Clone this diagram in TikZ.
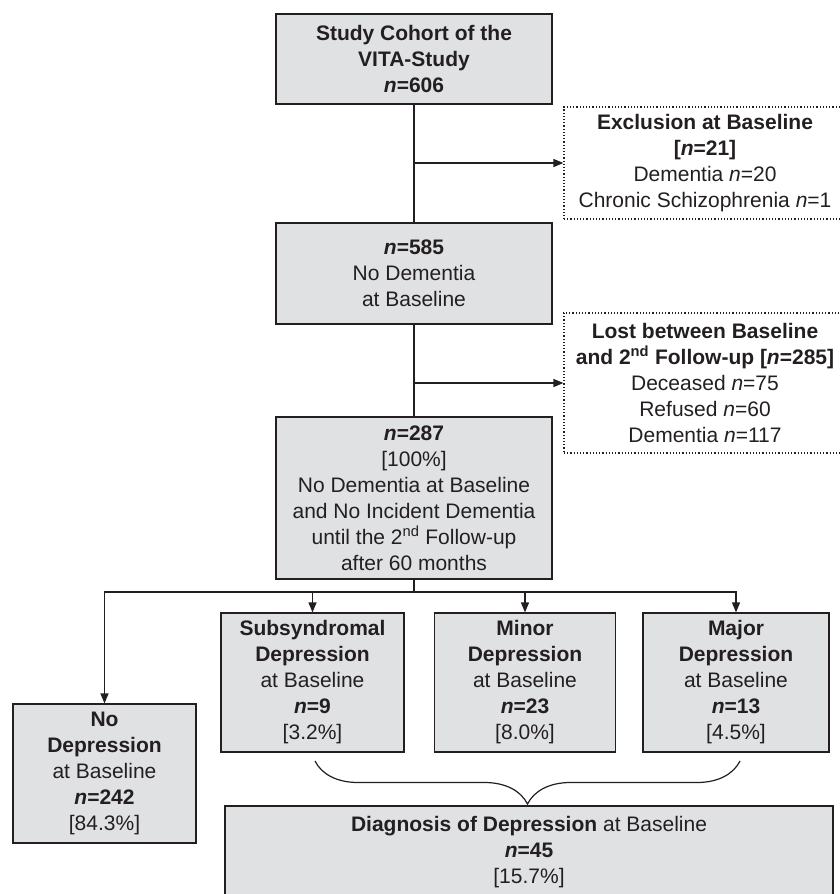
\documentclass[tikz,border=0pt]{standalone}
\usepackage{fontspec}
\setmainfont{Liberation Sans}
\usetikzlibrary{arrows.meta,decorations.pathreplacing}
\definecolor{boxfill}{RGB}{224,225,227}
\definecolor{ink}{RGB}{35,31,32}

\begin{document}
\begin{tikzpicture}[x=1pt, y=-1pt,
    font=\fontsize{21}{26}\selectfont, text=ink,
    box/.style={draw=ink, line width=1.2pt, fill=boxfill, align=center, inner sep=2pt},
    lostbox/.style={draw=ink, line width=1.2pt, dotted, align=center, inner sep=2pt},
    link/.style={draw=ink, line width=1.2pt},
    arr/.style={-{Triangle[length=10pt,width=8pt]}}]
    \useasboundingbox (0,0) rectangle (840,894);
    \node[box, minimum width=276pt, minimum height=90pt] (cohort) at (414,59)
        {\textbf{Study Cohort of the}\\\textbf{VITA-Study}\\\textbf{\textit{n}=606}};
    \node[lostbox, minimum width=282pt, minimum height=112pt] (excl) at (705,163)
        {\textbf{Exclusion at Baseline}\\\textbf{[\textit{n}=21]}\\Dementia \textit{n}=20\\Chronic Schizophrenia \textit{n}=1};
    \node[box, minimum width=276pt, minimum height=101pt] (nodem) at (414,273.5)
        {\textbf{\textit{n}=585}\\No Dementia\\at Baseline};
    \node[lostbox, minimum width=282pt, minimum height=140pt] (lost) at (705,383)
        {\textbf{Lost between Baseline}\\\textbf{and 2\textsuperscript{nd} Follow-up [\textit{n}=285]}\\Deceased \textit{n}=75\\Refused \textit{n}=60\\Dementia \textit{n}=117};
    \node[box, minimum width=276pt, minimum height=162pt] (c287) at (414,498)
        {\textbf{\textit{n}=287}\\{[100\%]}\\No Dementia at Baseline\\and No Incident Dementia\\until the 2\textsuperscript{nd} Follow-up\\after 60 months};
    \node[box, minimum width=183pt, minimum height=139pt] (nodep) at (104.5,773.5)
        {\textbf{No}\\\textbf{Depression}\\at Baseline\\\textbf{\textit{n}=242}\\{[84.3\%]}};
    \node[box, minimum width=183pt, minimum height=139pt] (subsyn) at (312.5,682.5)
        {\textbf{Subsyndromal}\\\textbf{Depression}\\at Baseline\\\textbf{\textit{n}=9}\\{[3.2\%]}};
    \node[box, minimum width=181pt, minimum height=139pt] (minor) at (525,682.5)
        {\textbf{Minor}\\\textbf{Depression}\\at Baseline\\\textbf{\textit{n}=23}\\{[8.0\%]}};
    \node[box, minimum width=186pt, minimum height=139pt] (major) at (736,682.5)
        {\textbf{Major}\\\textbf{Depression}\\at Baseline\\\textbf{\textit{n}=13}\\{[4.5\%]}};
    \node[box, minimum width=608pt, minimum height=92pt] (diag) at (529,852)
        {\textbf{Diagnosis of Depression} at Baseline\\\textbf{\textit{n}=45}\\{[15.7\%]}};

    \draw[link] (cohort) -- (nodem);
    \draw[link, arr] (cohort.south |- excl.west) -- (excl.west);
    \draw[link] (nodem) -- (c287);
    \draw[link, arr] (nodem.south |- lost.west) -- (lost.west);
    \coordinate (split) at (414,592);
    \draw[link] (c287) -- (split);
    \draw[link, arr] (split) -| (nodep.north);
    \draw[link, arr] (split) -| (major.north);
    \draw[link, arr] (split -| subsyn.north) -- (subsyn.north);
    \draw[link, arr] (split -| minor.north) -- (minor.north);
    \coordinate (bracel) at (315,761);
    \coordinate (bracer) at (740,761);
    \draw[link, decorate, decoration={brace, amplitude=43pt}] (bracer) -- (bracel);
\end{tikzpicture}
\end{document}
